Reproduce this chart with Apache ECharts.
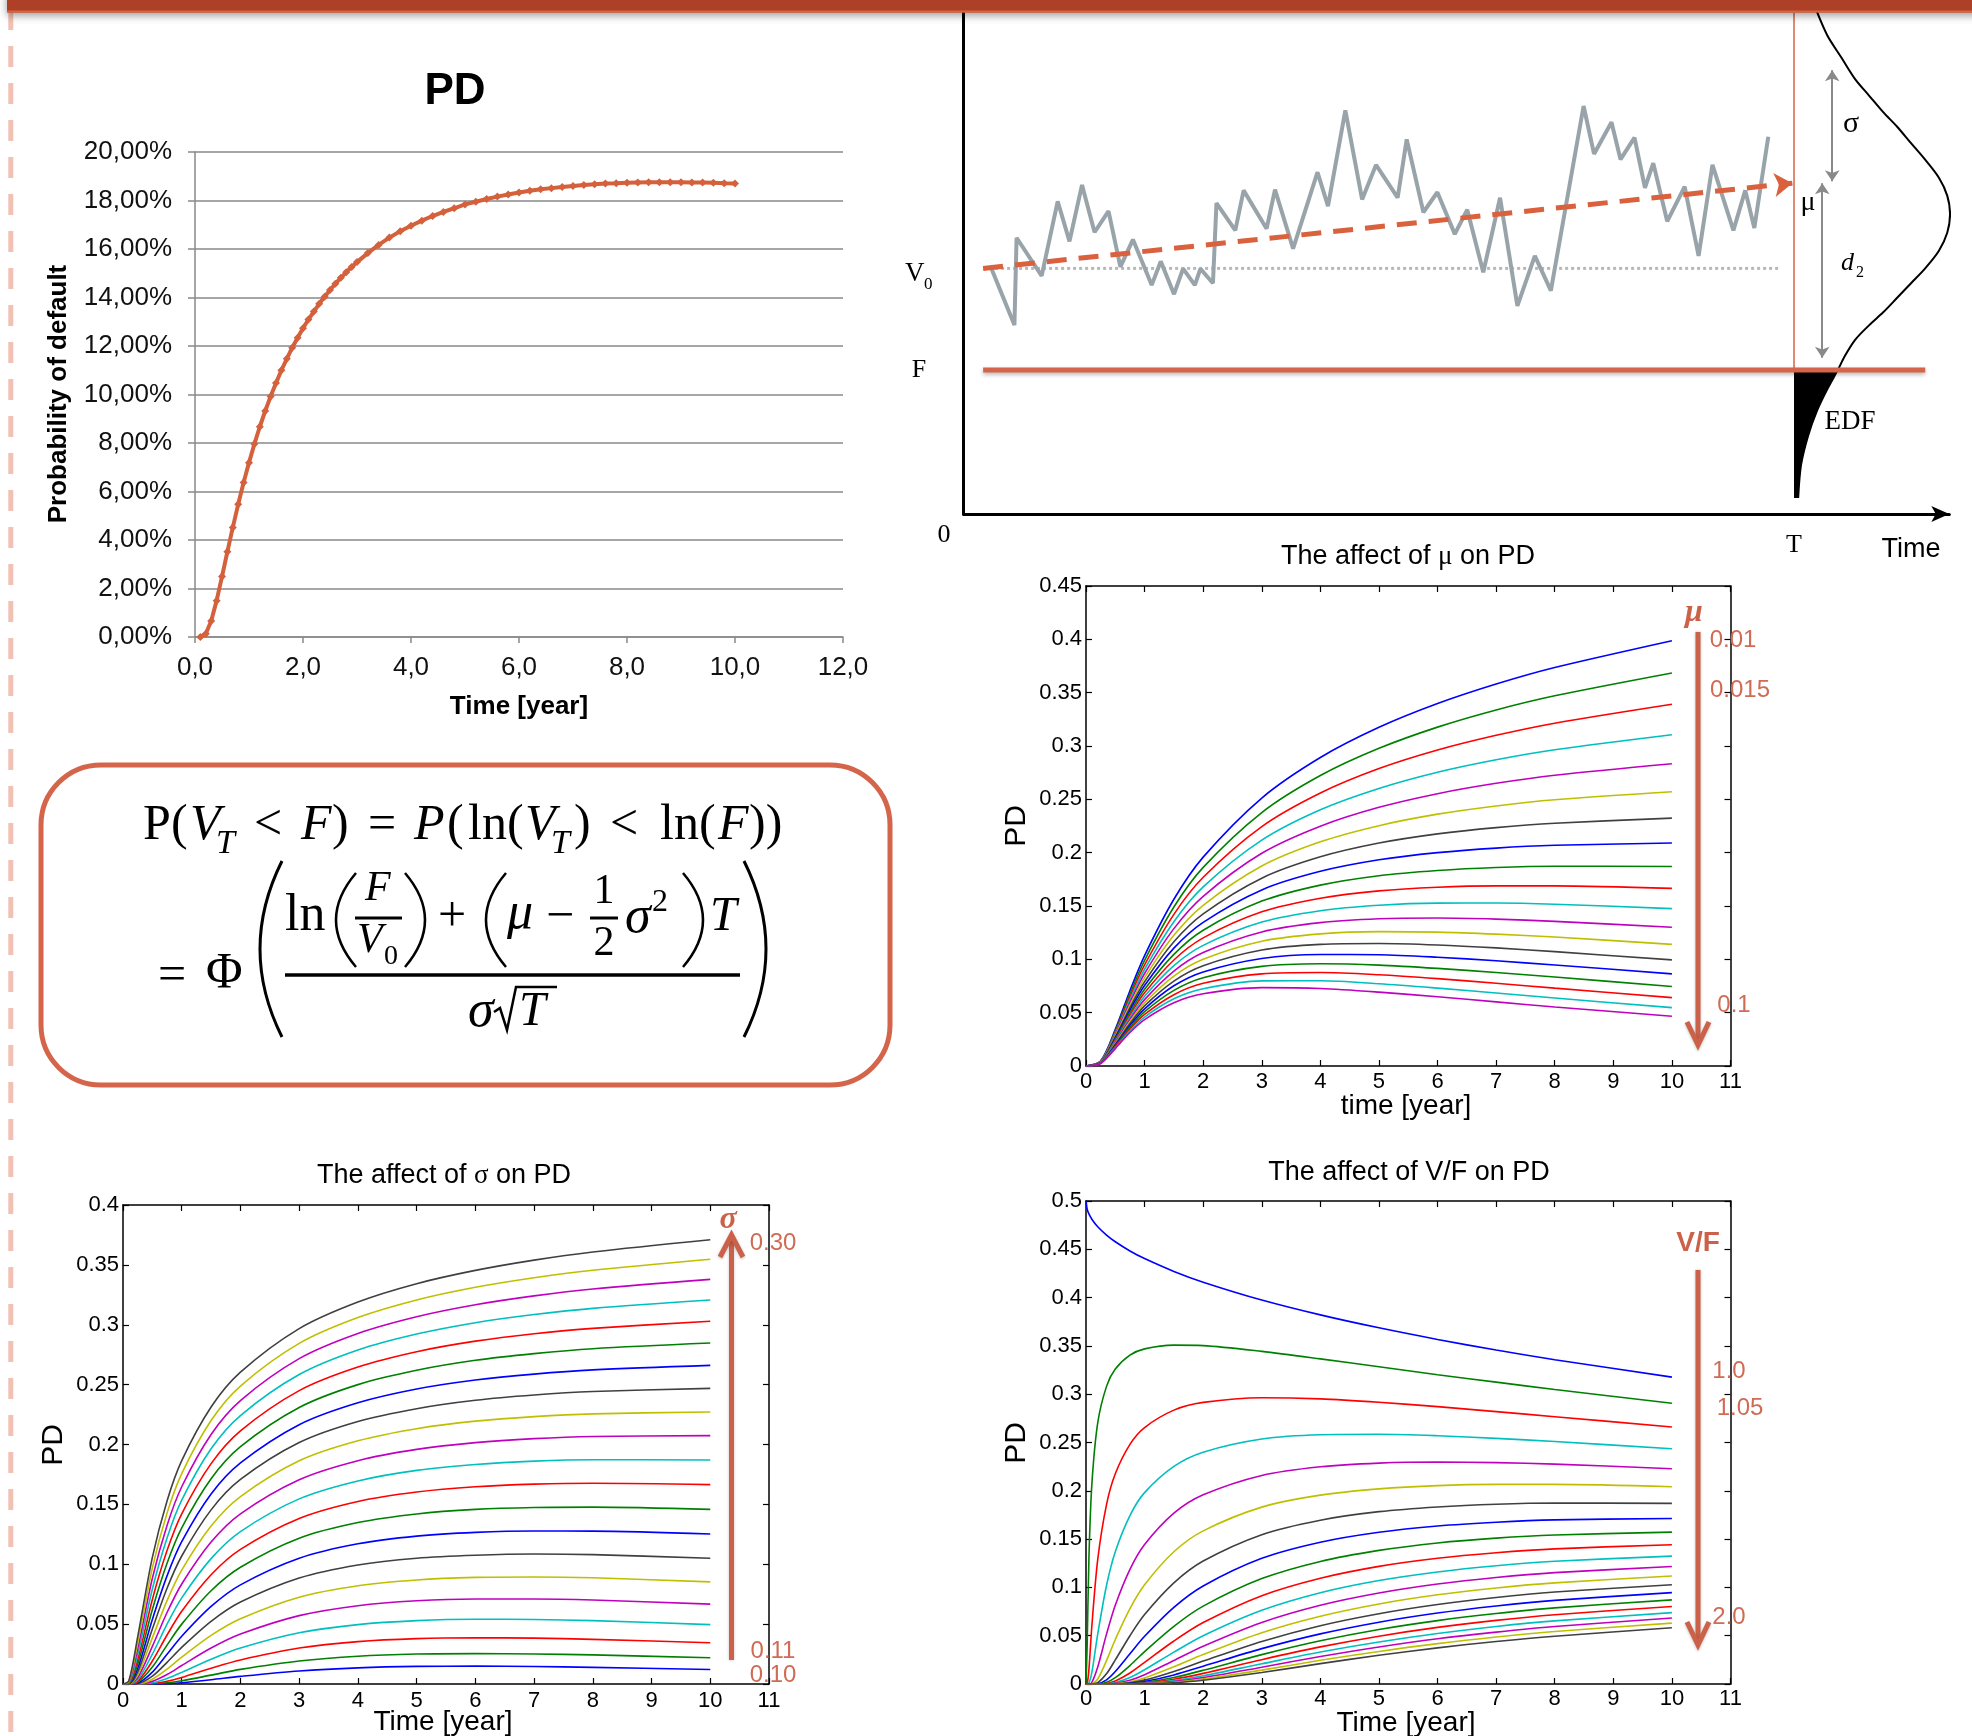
<!DOCTYPE html>
<html>
<head>
<meta charset="utf-8">
<title>PD</title>
<script src="https://cdn.jsdelivr.net/npm/echarts/dist/echarts.min.js"></script>
</head>
<body style="margin:0; background:#ffffff">
<div id="container" style="width:1972px; height:1736px"></div>
<script type="text/javascript">
// ---------------- data ----------------
// Excel chart: PD over time (fraction)
var pdTime = [0.1,0.2,0.3,0.4,0.5,0.6,0.7,0.8,0.9,1.0,1.1,1.2,1.3,1.4,1.5,1.6,1.7,1.8,1.9,2.0,
  2.1,2.2,2.3,2.4,2.5,2.6,2.7,2.8,2.9,3.0,3.2,3.4,3.6,3.8,4.0,4.2,4.4,4.6,4.8,5.0,
  5.2,5.4,5.6,5.8,6.0,6.2,6.4,6.6,6.8,7.0,7.2,7.4,7.6,7.8,8.0,8.2,8.4,8.6,8.8,9.0,
  9.2,9.4,9.6,9.8,10.0];
var pdValue = [0.0000,0.0013,0.0066,0.0150,0.0249,0.0352,0.0452,0.0547,0.0637,0.0719,
  0.0796,0.0867,0.0932,0.0992,0.1047,0.1100,0.1147,0.1193,0.1234,0.1273,
  0.1309,0.1342,0.1374,0.1403,0.1431,0.1457,0.1481,0.1504,0.1526,0.1546,
  0.1583,0.1617,0.1647,0.1673,0.1696,0.1717,0.1736,0.1753,0.1768,0.1784,
  0.1795,0.1806,0.1816,0.1825,0.1833,0.1840,0.1846,0.1851,0.1856,0.1860,
  0.1864,0.1867,0.1870,0.1871,0.1873,0.1874,0.1875,0.1875,0.1875,0.1875,
  0.1874,0.1874,0.1873,0.1871,0.1870];

// "The affect of mu on PD"
var tMu = [0, 0.25, 0.5, 0.75, 1, 1.5, 2, 3, 4, 5, 6, 7, 8, 10];
var muLevels = [0.01,0.015,0.02,0.025,0.03,0.035,0.04,0.045,0.05,0.055,0.06,0.065,0.07,0.075,0.08,0.085,0.09,0.095,0.1];
var muPD = [
  [0,0.0047,0.0344,0.0706,0.1035,0.1563,0.1958,0.2512,0.2892,0.3175,0.3398,0.3581,0.3736,0.3987],
  [0,0.0045,0.0331,0.0677,0.0991,0.1491,0.1862,0.2376,0.2723,0.2978,0.3177,0.3338,0.3471,0.3685],
  [0,0.0044,0.0318,0.0649,0.0948,0.1422,0.1769,0.2244,0.2559,0.2788,0.2962,0.3100,0.3214,0.3392],
  [0,0.0042,0.0305,0.0622,0.0907,0.1353,0.1679,0.2117,0.2402,0.2602,0.2754,0.2871,0.2965,0.3106],
  [0,0.0041,0.0293,0.0596,0.0867,0.1288,0.1591,0.1994,0.2248,0.2425,0.2553,0.2650,0.2726,0.2834],
  [0,0.0039,0.0282,0.0571,0.0828,0.1225,0.1507,0.1875,0.2102,0.2253,0.2361,0.2438,0.2496,0.2571],
  [0,0.0038,0.0271,0.0546,0.0790,0.1164,0.1426,0.1761,0.1961,0.2090,0.2176,0.2235,0.2276,0.2324],
  [0,0.0036,0.0260,0.0523,0.0754,0.1105,0.1347,0.1651,0.1825,0.1933,0.2000,0.2043,0.2069,0.2090],
  [0,0.0035,0.0249,0.0500,0.0719,0.1047,0.1273,0.1546,0.1696,0.1784,0.1833,0.1861,0.1873,0.1870],
  [0,0.0034,0.0240,0.0478,0.0686,0.0994,0.1201,0.1445,0.1573,0.1642,0.1676,0.1689,0.1689,0.1665],
  [0,0.0033,0.0230,0.0457,0.0653,0.0941,0.1131,0.1349,0.1456,0.1507,0.1527,0.1528,0.1517,0.1475],
  [0,0.0032,0.0220,0.0437,0.0622,0.0890,0.1064,0.1257,0.1344,0.1380,0.1387,0.1377,0.1356,0.1301],
  [0,0.0031,0.0211,0.0417,0.0592,0.0843,0.1001,0.1170,0.1239,0.1260,0.1255,0.1236,0.1209,0.1140],
  [0,0.0029,0.0202,0.0398,0.0564,0.0796,0.0940,0.1087,0.1140,0.1148,0.1134,0.1107,0.1072,0.0995],
  [0,0.0028,0.0194,0.0380,0.0536,0.0752,0.0882,0.1008,0.1045,0.1043,0.1020,0.0986,0.0947,0.0864],
  [0,0.0027,0.0186,0.0362,0.0509,0.0709,0.0828,0.0934,0.0958,0.0946,0.0915,0.0876,0.0834,0.0746],
  [0,0.0026,0.0178,0.0346,0.0483,0.0668,0.0775,0.0864,0.0876,0.0855,0.0819,0.0776,0.0730,0.0641],
  [0,0.0025,0.0170,0.0329,0.0459,0.0630,0.0724,0.0798,0.0799,0.0771,0.0730,0.0684,0.0637,0.0547],
  [0,0.0024,0.0163,0.0314,0.0435,0.0593,0.0677,0.0735,0.0727,0.0693,0.0649,0.0601,0.0553,0.0466]
];

// "The affect of sigma on PD"
var tSig = [0, 0.1, 0.25, 0.5, 0.75, 1, 1.5, 2, 3, 4, 5, 6, 7, 8, 10];
var sigmaLevels = [0.10,0.11,0.12,0.13,0.14,0.15,0.16,0.17,0.18,0.19,0.20,0.21,0.22,0.23,0.24,0.25,0.26,0.27,0.28,0.29,0.30];
var sigmaPD = [
  [0,0,0,0,0.0003,0.0011,0.0036,0.0064,0.0109,0.0135,0.0147,0.0149,0.0146,0.0139,0.0121],
  [0,0,0,0.0002,0.0010,0.0027,0.0074,0.0122,0.0192,0.0232,0.0250,0.0254,0.0251,0.0243,0.0219],
  [0,0,0,0.0004,0.0023,0.0055,0.0132,0.0201,0.0300,0.0354,0.0379,0.0386,0.0383,0.0373,0.0345],
  [0,0,0,0.0010,0.0046,0.0097,0.0207,0.0301,0.0428,0.0496,0.0529,0.0541,0.0539,0.0529,0.0496],
  [0,0,0,0.0022,0.0079,0.0154,0.0300,0.0417,0.0571,0.0654,0.0695,0.0710,0.0710,0.0701,0.0667],
  [0,0,0.0001,0.0040,0.0124,0.0224,0.0406,0.0545,0.0725,0.0821,0.0869,0.0890,0.0894,0.0887,0.0853],
  [0,0,0.0003,0.0065,0.0181,0.0306,0.0523,0.0684,0.0885,0.0994,0.1050,0.1075,0.1085,0.1080,0.1050],
  [0,0,0.0007,0.0099,0.0248,0.0399,0.0648,0.0828,0.1050,0.1171,0.1235,0.1266,0.1278,0.1277,0.1252],
  [0,0,0.0013,0.0141,0.0325,0.0500,0.0779,0.0975,0.1217,0.1348,0.1420,0.1458,0.1474,0.1477,0.1458],
  [0,0,0.0022,0.0192,0.0409,0.0607,0.0912,0.1124,0.1382,0.1524,0.1603,0.1647,0.1669,0.1677,0.1665],
  [0,0,0.0035,0.0249,0.0500,0.0719,0.1047,0.1273,0.1546,0.1696,0.1784,0.1833,0.1861,0.1873,0.1870],
  [0,0,0.0052,0.0314,0.0597,0.0835,0.1185,0.1421,0.1706,0.1865,0.1959,0.2016,0.2049,0.2067,0.2074],
  [0,0,0.0073,0.0385,0.0696,0.0951,0.1319,0.1565,0.1864,0.2031,0.2132,0.2195,0.2233,0.2256,0.2272],
  [0,0.0001,0.0098,0.0459,0.0799,0.1069,0.1454,0.1708,0.2016,0.2192,0.2299,0.2369,0.2413,0.2442,0.2469],
  [0,0.0002,0.0129,0.0539,0.0903,0.1188,0.1586,0.1846,0.2165,0.2348,0.2463,0.2538,0.2588,0.2623,0.2661],
  [0,0.0004,0.0164,0.0622,0.1008,0.1304,0.1714,0.1982,0.2309,0.2500,0.2620,0.2703,0.2759,0.2800,0.2847],
  [0,0.0007,0.0202,0.0706,0.1114,0.1421,0.1840,0.2114,0.2450,0.2647,0.2775,0.2863,0.2925,0.2970,0.3029],
  [0,0.0010,0.0245,0.0793,0.1219,0.1535,0.1964,0.2242,0.2584,0.2789,0.2922,0.3017,0.3085,0.3137,0.3207],
  [0,0.0015,0.0291,0.0883,0.1324,0.1647,0.2084,0.2367,0.2717,0.2927,0.3067,0.3167,0.3241,0.3299,0.3379],
  [0,0.0021,0.0342,0.0970,0.1427,0.1757,0.2200,0.2488,0.2844,0.3060,0.3207,0.3313,0.3393,0.3455,0.3547],
  [0,0.0028,0.0394,0.1058,0.1529,0.1865,0.2313,0.2604,0.2968,0.3190,0.3343,0.3454,0.3540,0.3608,0.3710]
];

// "The affect of V/F on PD"
var tVF = [0, 0.02, 0.05, 0.1, 0.2, 0.35, 0.5, 0.75, 1, 1.5, 2, 3, 4, 5, 6, 7, 8, 10];
var vfLevels = [1.0,1.05,1.1,1.15,1.2,1.25,1.3,1.35,1.4,1.45,1.5,1.55,1.6,1.65,1.7,1.75,1.8,1.85,1.9,1.95,2.0];
var vfPD = [
  [0.5,0.4915,0.4866,0.4811,0.4733,0.4647,0.4578,0.4483,0.4404,0.4271,0.4160,0.3975,0.3821,0.3687,0.3567,0.3457,0.3357,0.3177],
  [0,0.0404,0.1305,0.2066,0.2702,0.3081,0.3260,0.3404,0.3469,0.3508,0.3503,0.3443,0.3366,0.3284,0.3202,0.3125,0.3049,0.2907],
  [0,0.0003,0.0152,0.0601,0.1288,0.1857,0.2176,0.2481,0.2655,0.2835,0.2915,0.2964,0.2952,0.2917,0.2871,0.2820,0.2767,0.2661],
  [0,0,0.0008,0.0120,0.0516,0.1020,0.1370,0.1744,0.1981,0.2253,0.2400,0.2536,0.2580,0.2585,0.2570,0.2543,0.2510,0.2435],
  [0,0,0,0.0017,0.0176,0.0516,0.0815,0.1186,0.1443,0.1768,0.1958,0.2159,0.2249,0.2287,0.2298,0.2292,0.2276,0.2229],
  [0,0,0,0.0002,0.0052,0.0242,0.0461,0.0781,0.1028,0.1369,0.1585,0.1831,0.1955,0.2020,0.2054,0.2066,0.2066,0.2042],
  [0,0,0,0,0.0013,0.0105,0.0249,0.0500,0.0719,0.1047,0.1273,0.1546,0.1696,0.1784,0.1833,0.1861,0.1873,0.1870],
  [0,0,0,0,0.0003,0.0043,0.0129,0.0313,0.0494,0.0794,0.1015,0.1301,0.1468,0.1571,0.1636,0.1675,0.1699,0.1714],
  [0,0,0,0,0,0.0017,0.0065,0.0191,0.0335,0.0597,0.0806,0.1091,0.1269,0.1383,0.1460,0.1510,0.1542,0.1572],
  [0,0,0,0,0,0.0006,0.0031,0.0114,0.0224,0.0445,0.0636,0.0914,0.1095,0.1218,0.1302,0.1359,0.1399,0.1442],
  [0,0,0,0,0,0.0002,0.0015,0.0067,0.0148,0.0330,0.0500,0.0763,0.0945,0.1071,0.1160,0.1224,0.1270,0.1324],
  [0,0,0,0,0,0,0.0007,0.0039,0.0096,0.0243,0.0391,0.0637,0.0815,0.0942,0.1035,0.1103,0.1153,0.1216],
  [0,0,0,0,0,0,0.0003,0.0023,0.0062,0.0178,0.0305,0.0531,0.0702,0.0829,0.0924,0.0994,0.1047,0.1118],
  [0,0,0,0,0,0,0.0001,0.0013,0.0040,0.0130,0.0237,0.0441,0.0604,0.0728,0.0823,0.0896,0.0952,0.1028],
  [0,0,0,0,0,0,0,0.0007,0.0025,0.0094,0.0184,0.0366,0.0519,0.0640,0.0735,0.0808,0.0866,0.0946],
  [0,0,0,0,0,0,0,0.0004,0.0016,0.0068,0.0142,0.0304,0.0447,0.0564,0.0656,0.0729,0.0788,0.0871],
  [0,0,0,0,0,0,0,0.0002,0.0010,0.0049,0.0110,0.0252,0.0384,0.0495,0.0586,0.0659,0.0717,0.0803],
  [0,0,0,0,0,0,0,0.0001,0.0006,0.0035,0.0085,0.0209,0.0331,0.0435,0.0523,0.0595,0.0653,0.0739],
  [0,0,0,0,0,0,0,0,0.0004,0.0025,0.0066,0.0174,0.0284,0.0383,0.0468,0.0537,0.0595,0.0683],
  [0,0,0,0,0,0,0,0,0.0002,0.0018,0.0051,0.0144,0.0245,0.0337,0.0418,0.0486,0.0543,0.0630],
  [0,0,0,0,0,0,0,0,0.0001,0.0013,0.0039,0.0119,0.0211,0.0297,0.0374,0.0440,0.0495,0.0582]
];

// diagram: asset value path (time with T = 10, value in units of F)
var walkT = [0.336,0.612,0.638,0.940,1.133,1.275,1.426,1.577,1.745,1.888,2.039,2.265,2.374,2.534,2.643,
  2.785,2.852,3.003,3.045,3.272,3.372,3.649,3.750,3.968,4.262,4.388,4.597,4.799,4.966,5.227,5.336,
  5.537,5.705,5.915,6.065,6.258,6.460,6.669,6.879,7.072,7.466,7.592,7.802,7.911,8.079,8.205,8.305,
  8.473,8.683,8.851,9.018,9.270,9.413,9.522,9.690];
var walkV = [1.704,1.312,1.919,1.654,2.172,1.894,2.286,1.957,2.104,1.717,1.906,1.590,1.755,1.527,1.704,
  1.590,1.704,1.603,2.159,1.970,2.248,1.982,2.253,1.843,2.374,2.139,2.804,2.185,2.425,2.197,2.602,
  2.096,2.235,1.944,2.114,1.679,2.197,1.446,1.793,1.552,2.834,2.501,2.721,2.463,2.614,2.266,2.437,
  2.033,2.273,1.793,2.425,1.970,2.248,1.987,2.620];
var normT = [10.277,10.403,10.570,10.738,10.906,11.074,11.242,11.409,11.577,11.745,11.846,11.879,11.846,
  11.745,11.577,11.409,11.242,11.074,10.906,10.738,10.612,10.528,10.403,10.277,10.168,10.084,10.050];
var normV = [3.487,3.322,3.171,3.019,2.905,2.791,2.690,2.576,2.463,2.336,2.210,2.083,1.955,
  1.828,1.704,1.603,1.502,1.401,1.312,1.211,1.097,1.001,0.870,0.718,0.541,0.339,0.111];
var V0_LEVEL = 1.706, F_LEVEL = 1.0, T_HORIZON = 10, DRIFT_END = 2.298;
var PATH_START = 0.235, DOTTED_END = 9.815, F_LINE_END = 11.58, DIAG_TOP = 3.48;
var SIGMA_BAR = [10.46, 3.082, 2.311];
var D2_BAR = [10.34, 2.298, 1.085];

// ---------------- chart ----------------
var dom = document.getElementById('container');
var myChart = echarts.init(dom);

var matlabColors = ['#0000ff', '#008000', '#ff0000', '#00bfbf', '#bf00bf', '#bfbf00', '#404040'];
var RED = '#cc6149';

function pairs(xs, ys) {
    return xs.map(function (x, i) { return [x, ys[i]]; });
}

// tail of the distribution below F
var tailT = [], tailV = [];
normV.forEach(function (v, i) {
    if (v <= F_LEVEL + 0.01) { tailT.push(normT[i]); tailV.push(v); }
});

function matlabAxes(gridIndex, max, interval, labelMargin) {
    var line = { onZero: false, lineStyle: { color: '#000', width: 1.5 } };
    var tick = { show: true, inside: true, length: 6, lineStyle: { color: '#000', width: 1.2 } };
    var lab = { fontSize: 22, color: '#000', fontFamily: 'Liberation Sans' };
    return {
        x: [
            { gridIndex: gridIndex, type: 'value', min: 0, max: 11, interval: 1, axisLine: line, axisTick: tick,
              axisLabel: Object.assign({ margin: labelMargin }, lab), splitLine: { show: false } },
            { gridIndex: gridIndex, type: 'value', position: 'top', min: 0, max: 11, interval: 1, axisLine: line,
              axisTick: tick, axisLabel: { show: false }, splitLine: { show: false } }
        ],
        y: [
            { gridIndex: gridIndex, type: 'value', min: 0, max: max, interval: interval, axisLine: Object.assign({ show: true }, line),
              axisTick: tick, axisLabel: Object.assign({ margin: 4 }, lab), splitLine: { show: false } },
            { gridIndex: gridIndex, type: 'value', position: 'right', min: 0, max: max, interval: interval,
              axisLine: Object.assign({ show: true }, line), axisTick: tick, axisLabel: { show: false }, splitLine: { show: false } }
        ]
    };
}

var axMu = matlabAxes(2, 0.45, 0.05, 5);
var axSig = matlabAxes(3, 0.4, 0.05, 6);
var axVF = matlabAxes(4, 0.5, 0.05, 4);

var xAxes = [
    { gridIndex: 0, type: 'value', min: 0, max: 12, interval: 2,
      axisLine: { onZero: false, lineStyle: { color: '#898989', width: 1.5 } },
      axisTick: { show: true, length: 6, lineStyle: { color: '#898989', width: 1.5 } },
      axisLabel: { fontSize: 26, color: '#111', margin: 18, fontFamily: 'Liberation Sans',
                   formatter: function (v) { return v.toFixed(1).replace('.', ','); } },
      splitLine: { show: false } },
    { gridIndex: 1, type: 'value', min: 0, max: 11.87,
      axisLine: { onZero: false, symbol: ['none', 'arrow'], symbolSize: [12, 18], lineStyle: { color: '#000', width: 3 } },
      axisTick: { show: false }, axisLabel: { show: false }, splitLine: { show: false } }
].concat(axMu.x, axSig.x, axVF.x);

var yAxes = [
    { gridIndex: 0, type: 'value', min: 0, max: 0.2, interval: 0.02,
      axisLine: { show: true, onZero: false, lineStyle: { color: '#898989', width: 1.5 } },
      axisTick: { show: true, length: 7, lineStyle: { color: '#898989', width: 1.5 } },
      axisLabel: { fontSize: 26, color: '#111', margin: 23, fontFamily: 'Liberation Sans',
                   formatter: function (v) { return (v * 100).toFixed(2).replace('.', ',') + '%'; } },
      splitLine: { show: true, lineStyle: { color: '#898989', width: 1.5 } } },
    { gridIndex: 1, type: 'value', min: 0, max: DIAG_TOP,
      axisLine: { show: true, onZero: false, lineStyle: { color: '#000', width: 3 } },
      axisTick: { show: false }, axisLabel: { show: false }, splitLine: { show: false } }
].concat(axMu.y, axSig.y, axVF.y);

var series = [];

// Excel PD curve
series.push({
    type: 'line', xAxisIndex: 0, yAxisIndex: 0, data: pairs(pdTime, pdValue),
    symbol: 'diamond', symbolSize: 8, showSymbol: true,
    lineStyle: { color: '#d4603c', width: 4 }, itemStyle: { color: '#d4603c' }
});

// diagram
series.push({
    type: 'line', xAxisIndex: 1, yAxisIndex: 1, data: [[PATH_START, V0_LEVEL], [DOTTED_END, V0_LEVEL]],
    symbol: 'none', lineStyle: { color: '#b8b8b8', width: 3, type: [3, 3] }, z: 2
});
series.push({
    type: 'line', xAxisIndex: 1, yAxisIndex: 1, data: pairs(walkT, walkV),
    symbol: 'none', lineStyle: { color: '#98a4a9', width: 4 }, z: 3
});
series.push({
    type: 'lines', coordinateSystem: 'cartesian2d', xAxisIndex: 1, yAxisIndex: 1, z: 4,
    data: [{ coords: [[PATH_START, V0_LEVEL], [T_HORIZON - 0.02, DRIFT_END]] }],
    symbol: ['none', 'arrow'], symbolSize: 18,
    lineStyle: { color: '#d9613e', width: 5, type: [20, 12], opacity: 1 }
});
series.push({
    type: 'line', xAxisIndex: 1, yAxisIndex: 1, data: [[T_HORIZON, F_LEVEL], [T_HORIZON, DIAG_TOP]],
    symbol: 'none', lineStyle: { color: '#d4654a', width: 1.5 }, z: 3
});
series.push({
    type: 'custom', xAxisIndex: 1, yAxisIndex: 1, z: 4, data: [[T_HORIZON, F_LEVEL]],
    renderItem: function (params, api) {
        var pts = [api.coord([T_HORIZON, F_LEVEL])];
        tailT.forEach(function (t, i) { pts.push(api.coord([t, tailV[i]])); });
        pts.push(api.coord([T_HORIZON, tailV[tailV.length - 1]]));
        return { type: 'polygon', shape: { points: pts }, style: { fill: '#000' } };
    }
});
series.push({
    type: 'line', xAxisIndex: 1, yAxisIndex: 1, data: pairs(normT, normV), clip: false,
    symbol: 'none', smooth: 0.3, lineStyle: { color: '#000', width: 2 }, z: 4
});
series.push({
    type: 'line', xAxisIndex: 1, yAxisIndex: 1, data: [[PATH_START, F_LEVEL], [F_LINE_END, F_LEVEL]],
    symbol: 'none', z: 5,
    lineStyle: { color: '#d4654a', width: 5, shadowColor: 'rgba(0,0,0,0.3)', shadowBlur: 4, shadowOffsetY: 2 }
});
series.push({
    type: 'lines', coordinateSystem: 'cartesian2d', xAxisIndex: 1, yAxisIndex: 1, z: 5,
    data: [
        { coords: [[SIGMA_BAR[0], SIGMA_BAR[1]], [SIGMA_BAR[0], SIGMA_BAR[2]]] },
        { coords: [[D2_BAR[0], D2_BAR[1]], [D2_BAR[0], D2_BAR[2]]] }
    ],
    symbol: ['arrow', 'arrow'], symbolSize: 11,
    lineStyle: { color: '#8a8a8a', width: 2, opacity: 1 }
});

// MATLAB-style families
function family(curves, ts, xi, yi) {
    curves.forEach(function (ys, i) {
        series.push({
            type: 'line', xAxisIndex: xi, yAxisIndex: yi, data: pairs(ts, ys),
            symbol: 'none', smooth: 0.3, lineStyle: { color: matlabColors[i % 7], width: 1.6 }, z: 3
        });
    });
}
family(muPD, tMu, 2, 2);
family(sigmaPD, tSig, 4, 4);
family(vfPD, tVF, 6, 6);

// ---------------- text and decorations ----------------
function label(x, y, text, o) {
    o = o || {};
    return {
        type: 'text', x: x, y: y, z: o.z || 20, silent: true, rotation: o.rotation || 0,
        style: {
            text: text, fill: o.color || '#000',
            fontFamily: o.family || 'Liberation Sans', fontSize: o.size || 22,
            fontStyle: o.italic ? 'italic' : 'normal', fontWeight: o.bold ? 'bold' : 'normal',
            align: o.align || 'center', verticalAlign: 'middle', rich: o.rich
        }
    };
}
function seg(x1, y1, x2, y2, color, w, extra) {
    return { type: 'line', z: 20, silent: true, shape: { x1: x1, y1: y1, x2: x2, y2: y2 },
             style: Object.assign({ stroke: color, lineWidth: w }, extra || {}) };
}
function curve(x1, y1, cx, cy, x2, y2, w) {
    return { type: 'bezierCurve', z: 20, silent: true,
             shape: { x1: x1, y1: y1, cpx1: cx, cpy1: cy, x2: x2, y2: y2 },
             style: { stroke: '#000', lineWidth: w, fill: null } };
}
function chevron(pts) {
    return { type: 'polyline', z: 21, silent: true, shape: { points: pts },
             style: { stroke: RED, lineWidth: 5, fill: null, lineJoin: 'miter',
                      shadowColor: 'rgba(0,0,0,0.25)', shadowBlur: 3, shadowOffsetY: 1 } };
}

var SERIF = 'Liberation Serif';
var graphics = [];

// page decorations
graphics.push(seg(10.8, 9, 10.8, 1736, '#f2c1b4', 5, { lineDash: [21, 16] }));
graphics.push({ type: 'rect', z: 100, silent: true, shape: { x: 7, y: -10, width: 1975, height: 22.5 },
                style: { fill: '#ae4027', shadowColor: 'rgba(0,0,0,0.4)', shadowBlur: 8, shadowOffsetY: 3 } });
graphics.push(Object.assign(seg(7, 11.5, 1972, 11.5, '#d9653f', 2), { z: 101 }));

// Excel chart texts
graphics.push(label(455, 92, 'PD', { size: 44, bold: true }));
graphics.push(label(59, 394, 'Probability of default', { size: 26, bold: true, rotation: Math.PI / 2 }));
graphics.push(label(519, 707, 'Time [year]', { size: 26, bold: true }));

// formula box
graphics.push({ type: 'rect', z: 10, silent: true, shape: { x: 41, y: 765, width: 849, height: 320, r: 60 },
                style: { fill: '#fff', stroke: '#d4654a', lineWidth: 5 } });
var formulaParts = [
    [143, 826, 'P', 50, 0], [171, 826, '(', 50, 0], [190, 826, 'V', 50, 1], [216, 844, 'T', 34, 1],
    [254, 826, '<', 50, 0], [301, 826, 'F', 50, 1], [332, 826, ')', 50, 0], [368, 826, '=', 50, 0],
    [414, 826, 'P', 50, 1], [447, 826, '(', 50, 0], [468, 826, 'ln', 50, 0], [507, 826, '(', 50, 0],
    [525, 826, 'V', 50, 1], [551, 844, 'T', 34, 1], [574, 826, ')', 50, 0], [610, 826, '<', 50, 0],
    [660, 826, 'ln', 50, 0], [699, 826, '(', 50, 0], [718, 826, 'F', 50, 1], [749, 826, '))', 50, 0],
    [158, 977, '=', 50, 0], [206, 974, '\u03a6', 50, 0],
    [285, 916, 'ln', 52, 0], [365, 889, 'F', 42, 1], [357, 941, 'V', 42, 1], [384, 957, '0', 28, 0],
    [438, 918, '+', 50, 0], [507, 914, '\u03bc', 52, 1], [546, 918, '\u2212', 50, 0],
    [625, 918, '\u03c3', 52, 1], [652, 903, '2', 32, 0], [710, 917, 'T', 48, 1],
    [468, 1012, '\u03c3', 52, 1], [519, 1012, 'T', 48, 1]
];
formulaParts.forEach(function (p) {
    graphics.push(label(p[0], p[1], p[2], { size: p[3], italic: !!p[4], family: SERIF, align: 'left', z: 12 }));
});
graphics.push(label(604, 892, '1', { size: 42, family: SERIF, z: 12 }));
graphics.push(label(604, 944, '2', { size: 42, family: SERIF, z: 12 }));
graphics.push(seg(285, 975, 740, 975, '#000', 3.5));
graphics.push(seg(355, 918, 402, 918, '#000', 3));
graphics.push(seg(590, 918, 618, 918, '#000', 3));
graphics.push({ type: 'polyline', z: 20, silent: true,
                shape: { points: [[494, 1012], [500, 1008], [507, 1030], [516, 987], [557, 987]] },
                style: { stroke: '#000', lineWidth: 2.5, fill: null } });
graphics.push(curve(282, 861, 238, 949, 282, 1037, 3));
graphics.push(curve(744, 861, 788, 949, 744, 1037, 3));
graphics.push(curve(356, 873, 316, 920, 356, 967, 2.5));
graphics.push(curve(405, 873, 445, 920, 405, 967, 2.5));
graphics.push(curve(506, 873, 466, 920, 506, 967, 2.5));
graphics.push(curve(683, 873, 723, 920, 683, 967, 2.5));

// diagram labels
graphics.push(label(905, 274, 'V', { size: 27, family: SERIF, align: 'left' }));
graphics.push(label(924, 285, '0', { size: 17, family: SERIF, align: 'left' }));
graphics.push(label(919, 370, 'F', { size: 26, family: SERIF }));
graphics.push(label(944, 535, '0', { size: 26, family: SERIF }));
graphics.push(label(1794, 545, 'T', { size: 26, family: SERIF }));
graphics.push(label(1911, 550, 'Time', { size: 27 }));
graphics.push(label(1851, 124, '\u03c3', { size: 30, family: SERIF }));
graphics.push(label(1808, 203, '\u03bc', { size: 28, family: SERIF }));
graphics.push(label(1841, 263, 'd', { size: 26, family: SERIF, italic: true, align: 'left' }));
graphics.push(label(1856, 273, '2', { size: 16, family: SERIF, align: 'left' }));
graphics.push(label(1850, 422, 'EDF', { size: 27, family: SERIF }));

// MATLAB chart titles and axis names
var greek = { g: { fontFamily: SERIF, fontSize: 27 } };
graphics.push(label(1408, 557, 'The affect of {g|\u03bc} on PD', { size: 27, rich: greek }));
graphics.push(label(444, 1176, 'The affect of {g|\u03c3} on PD', { size: 27, rich: greek }));
graphics.push(label(1409, 1173, 'The affect of V/F on PD', { size: 27 }));
graphics.push(label(1406, 1106, 'time [year]', { size: 28 }));
graphics.push(label(443, 1722, 'Time [year]', { size: 28 }));
graphics.push(label(1406, 1723, 'Time [year]', { size: 28 }));
graphics.push(label(1017, 826, 'PD', { size: 30, rotation: Math.PI / 2 }));
graphics.push(label(54, 1445, 'PD', { size: 30, rotation: Math.PI / 2 }));
graphics.push(label(1017, 1443, 'PD', { size: 30, rotation: Math.PI / 2 }));

// red annotations
graphics.push(seg(1698, 632, 1698, 1040, RED, 5, { shadowColor: 'rgba(0,0,0,0.25)', shadowBlur: 3 }));
graphics.push(chevron([[1687, 1022], [1698, 1045], [1709, 1022]]));
graphics.push(label(1694, 613, '\u03bc', { size: 32, family: SERIF, italic: true, bold: true, color: RED }));
graphics.push(label(1733, 640, '0.01', { size: 24, color: '#d06b56' }));
graphics.push(label(1740, 690, '0.015', { size: 24, color: '#d06b56' }));
graphics.push(label(1734, 1005, '0.1', { size: 24, color: '#d06b56' }));

graphics.push(seg(731.5, 1660, 731.5, 1240, RED, 5, { shadowColor: 'rgba(0,0,0,0.25)', shadowBlur: 3 }));
graphics.push(chevron([[720, 1257], [731.5, 1235], [743, 1257]]));
graphics.push(label(728, 1220, '\u03c3', { size: 32, family: SERIF, italic: true, bold: true, color: RED }));
graphics.push(label(773, 1243, '0.30', { size: 24, color: '#d06b56' }));
graphics.push(label(773, 1651, '0.11', { size: 24, color: '#d06b56' }));
graphics.push(label(773, 1675, '0.10', { size: 24, color: '#d06b56' }));

graphics.push(seg(1698, 1270, 1698, 1640, RED, 5, { shadowColor: 'rgba(0,0,0,0.25)', shadowBlur: 3 }));
graphics.push(chevron([[1687, 1622], [1698, 1645], [1709, 1622]]));
graphics.push(label(1698, 1243, 'V/F', { size: 28, bold: true, color: RED }));
graphics.push(label(1729, 1371, '1.0', { size: 24, color: '#d06b56' }));
graphics.push(label(1740, 1408, '1.05', { size: 24, color: '#d06b56' }));
graphics.push(label(1729, 1617, '2.0', { size: 24, color: '#d06b56' }));

var option = {
    backgroundColor: '#ffffff',
    animation: false,
    grid: [
        { left: 195, top: 152, width: 648, height: 485 },
        { left: 963.6, top: 13, width: 985.7, height: 501 },
        { left: 1086, top: 586, width: 644.5, height: 480 },
        { left: 123, top: 1205, width: 646, height: 479 },
        { left: 1086, top: 1201, width: 644.5, height: 483 }
    ],
    xAxis: xAxes,
    yAxis: yAxes,
    series: series,
    graphic: { elements: graphics }
};

myChart.setOption(option, true);
</script>
</body>
</html>
